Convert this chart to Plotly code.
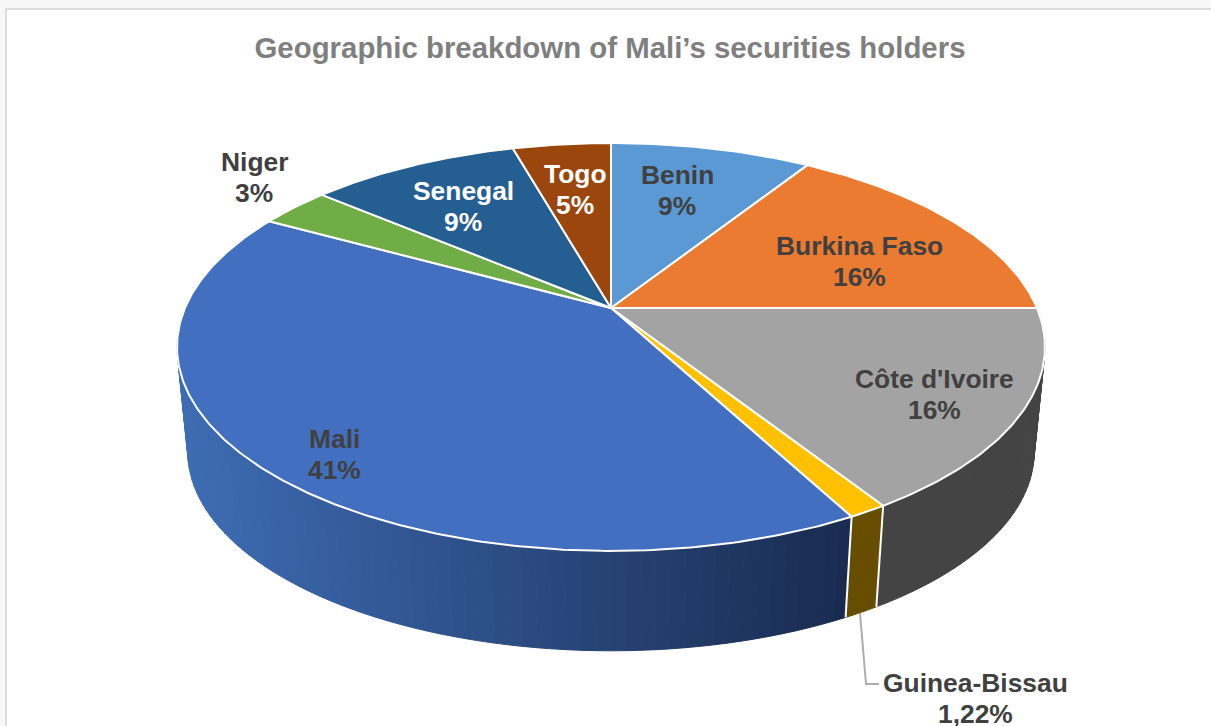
import numpy as np
import plotly.graph_objects as go

# Data, clockwise from 12 o'clock
names = ["Benin", "Burkina Faso", "Côte d'Ivoire", "Guinea-Bissau", "Mali", "Niger", "Senegal", "Togo"]
shares = [9.0, 16.0, 16.0, 1.22, 40.78, 3.2, 9.4, 4.4]
share_labels = ["9%", "16%", "16%", "1,22%", "41%", "3%", "9%", "5%"]

# Styles
top_colors = ["#5A99D3", "#EB7B30", "#A3A3A3", "#FFC000", "#426FBF", "#70AD47", "#255E91", "#9A460D"]
label_colors = ["#404040", "#404040", "#404040", "#404040", "#404040", "#404040", "#FFFFFF", "#FFFFFF"]
label_pos = [(677, 190), (859, 261), (934, 394), (975, 698), (334, 454), (254, 177), (463, 206), (575, 189)]
LINE_GAP = 15.5

# Projection of the tilted disc into page pixels
AX, AY, CX, CY, K = 426.0, 196.5, 611.0, 308.0, 0.191
S, ELL_CY, BOTTOM_CY = 0.975, 347.0, 452.0


def top_xy(theta):
    u, v = np.sin(theta), np.cos(theta)
    w = 1 + K * v
    return CX + AX * u / w, CY - AY * v / w


def bottom_xy(theta):
    x, y = top_xy(theta)
    return CX + (x - CX) * S, BOTTOM_CY + (y - ELL_CY) * S


def mali_wall_colour(x):
    f = float(np.clip((x - 180) / (850 - 180), 0, 1))
    a, b = (62, 108, 180), (25, 43, 80)
    return "rgb(%d,%d,%d)" % tuple(round(a[i] + (b[i] - a[i]) * f) for i in range(3))


total = sum(shares)
edges = 2 * np.pi * np.cumsum([0] + shares) / total
fig = go.Figure()


def add_poly(xs, ys, fill, line_color, line_width):
    fig.add_trace(go.Scatter(x=xs, y=ys, mode="lines", fill="toself", fillcolor=fill,
                             line=dict(color=line_color, width=line_width),
                             hoverinfo="skip", showlegend=False))


# Side walls of the slices on the near half, swept as narrow strips
wall_flat = {"Côte d'Ivoire": "#444444", "Guinea-Bissau": "#664D00"}
for i, name in enumerate(names):
    if name not in ("Côte d'Ivoire", "Guinea-Bissau", "Mali"):
        continue
    th = np.linspace(edges[i], edges[i + 1], 90 if name == "Mali" else (40 if name != "Guinea-Bissau" else 6))
    for a, b in zip(th[:-1], th[1:]):
        xa, ya = top_xy(np.array([a, b]))
        xb, yb = bottom_xy(np.array([b, a]))
        c = mali_wall_colour((xa[0] + xa[1]) / 2) if name == "Mali" else wall_flat[name]
        add_poly(list(xa) + list(xb) + [xa[0]], list(ya) + list(yb) + [ya[0]], c, c, 1)

# White seams between the walls
for edge in (edges[3], edges[4]):
    xa, ya = top_xy(edge)
    xb, yb = bottom_xy(edge)
    fig.add_trace(go.Scatter(x=[xa, xb], y=[ya, yb], mode="lines",
                             line=dict(color="#FFFFFF", width=2),
                             hoverinfo="skip", showlegend=False))

# Top faces
for i, name in enumerate(names):
    th = np.linspace(edges[i], edges[i + 1], max(12, int(shares[i] * 6)))
    x, y = top_xy(th)
    add_poly([CX] + list(x) + [CX], [CY] + list(y) + [CY], top_colors[i], "#FFFFFF", 2)

annotations = []
for n, p, c, (px, py) in zip(names, share_labels, label_colors, label_pos):
    for text, offset in ((n, -LINE_GAP), (p, LINE_GAP)):
        annotations.append(dict(x=px, y=py + offset, xref="x", yref="y", text=f"<b>{text}</b>",
                                showarrow=False, xanchor="center", yanchor="middle",
                                font=dict(family="Liberation Sans", size=26.4, color=c)))

fig.update_layout(
    width=1211, height=726, margin=dict(l=0, r=0, t=0, b=0),
    paper_bgcolor="#F7F7F7", plot_bgcolor="rgba(0,0,0,0)", showlegend=False,
    title=dict(text="<b>Geographic breakdown of Mali’s securities holders</b>",
               x=610 / 1211, xanchor="center", y=1 - 48 / 726, yanchor="middle",
               font=dict(family="Liberation Sans", size=29.4, color="#7F7F7F")),
    xaxis=dict(range=[0, 1211], visible=False, fixedrange=True),
    yaxis=dict(range=[726, 0], visible=False, fixedrange=True),
    annotations=annotations,
    shapes=[
        dict(type="rect", xref="x", yref="y", x0=6, y0=9, x1=1230, y1=745, layer="below",
             fillcolor="#FFFFFF", line=dict(color="#DCDCDC", width=2)),
        dict(type="path", xref="x", yref="y", path="M 860 613 L 866 684 L 879 684",
             line=dict(color="#ADADAD", width=2)),
    ],
)
fig.write_html("out.html", config=dict(displayModeBar=False),
               post_script="document.body.style.margin='0';document.body.style.overflow='hidden';")
